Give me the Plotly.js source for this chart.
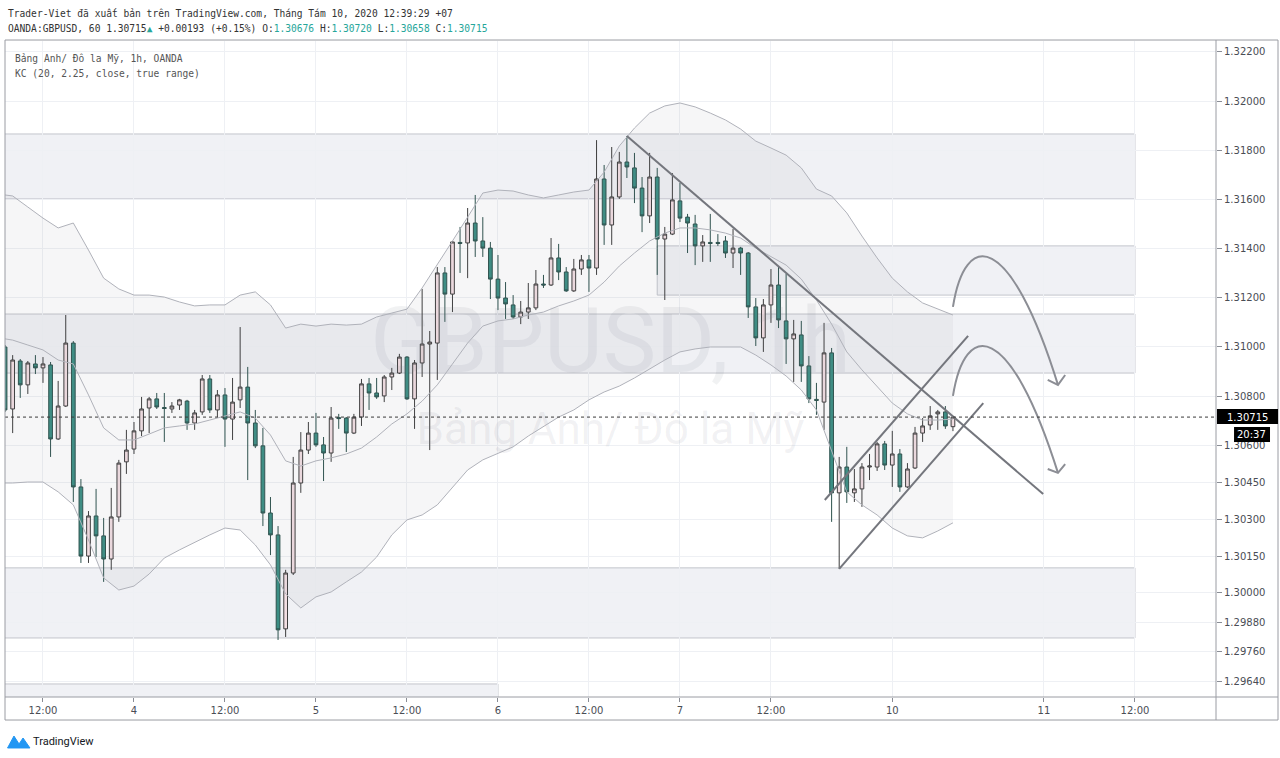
<!DOCTYPE html>
<html>
<head>
<meta charset="utf-8">
<script src="https://cdn.plot.ly/plotly-3.0.1.min.js"></script>
<style>html,body{margin:0;padding:0;background:#fff;}#chart{width:1280px;height:758px;}</style>
</head>
<body>
<div id="chart"></div>
<script>
// ---- bar numbering: 0 = 12:00 Aug 3 (hourly bars, weekend gap removed) ----
const firstBar = -5;
const barCount = 126;
const barNo = Array.from({length: barCount}, (_, i) => firstBar + i);

const open = [1.31000,1.30748,1.30943,1.30846,1.30931,1.30915,1.30927,1.30626,1.30760,1.31016,
1.30431,1.30150,1.30313,1.30232,1.30138,1.30309,1.30533,1.30585,1.30659,1.30752,
1.30789,1.30754,1.30748,1.30764,1.30780,1.30691,1.30736,1.30870,1.30744,1.30805,
1.30707,1.30785,1.30837,1.30691,1.30598,1.30325,1.30236,1.29854,1.30081,1.30447,
1.30581,1.30650,1.30602,1.30569,1.30713,1.30711,1.30650,1.30715,1.30850,1.30813,
1.30801,1.30878,1.30894,1.30959,1.30789,1.30935,1.31012,1.31016,1.31301,1.31215,
1.31425,1.31423,1.31504,1.31431,1.31402,1.31276,1.31199,1.31171,1.31122,1.31142,
1.31159,1.31256,1.31252,1.31362,1.31305,1.31228,1.31317,1.31354,1.31321,1.31683,
1.31496,1.31610,1.31752,1.31728,1.31646,1.31533,1.31691,1.31439,1.31459,1.31594,
1.31528,1.31500,1.31411,1.31425,1.31425,1.31431,1.31382,1.31402,1.31382,1.31163,
1.31037,1.31171,1.31252,1.31106,1.31033,1.31049,1.30923,1.30787,1.30776,1.30976,
1.30407,1.30512,1.30407,1.30423,1.30512,1.30512,1.30606,1.30520,1.30565,1.30431,
1.30508,1.30650,1.30683,1.30728,1.30736,1.30676];
const high = [1.31008,1.30967,1.30951,1.30943,1.30967,1.30959,1.30939,1.30862,1.31130,1.31024,
1.30463,1.30333,1.30423,1.30305,1.30427,1.30541,1.30663,1.30695,1.30797,1.30797,
1.30813,1.30813,1.30776,1.30789,1.30785,1.30744,1.30886,1.30886,1.30825,1.30833,
1.30874,1.31081,1.30919,1.30744,1.30671,1.30390,1.30272,1.30094,1.30553,1.30654,
1.30695,1.30732,1.30634,1.30756,1.30728,1.30715,1.30728,1.30870,1.30874,1.30874,
1.30886,1.30915,1.30972,1.30963,1.30947,1.31236,1.31065,1.31325,1.31325,1.31431,
1.31488,1.31565,1.31618,1.31528,1.31427,1.31374,1.31264,1.31211,1.31187,1.31260,
1.31313,1.31293,1.31443,1.31419,1.31325,1.31358,1.31374,1.31374,1.31841,1.31740,
1.31813,1.31793,1.31858,1.31789,1.31691,1.31789,1.31728,1.31488,1.31707,1.31667,
1.31541,1.31537,1.31455,1.31541,1.31459,1.31451,1.31480,1.31407,1.31386,1.31199,
1.31195,1.31317,1.31325,1.31297,1.31110,1.31106,1.30963,1.30854,1.31098,1.30996,
1.30553,1.30594,1.30504,1.30528,1.30565,1.30614,1.30618,1.30659,1.30585,1.30528,
1.30675,1.30711,1.30760,1.30744,1.30760,1.30720];
const low = [1.30736,1.30650,1.30793,1.30809,1.30890,1.30854,1.30553,1.30622,1.30756,1.30370,
1.30122,1.30122,1.30146,1.30045,1.30094,1.30289,1.30484,1.30565,1.30638,1.30650,
1.30748,1.30614,1.30732,1.30744,1.30663,1.30663,1.30724,1.30732,1.30715,1.30594,
1.30622,1.30752,1.30459,1.30589,1.30272,1.30154,1.29809,1.29821,1.30073,1.30407,
1.30565,1.30594,1.30455,1.30533,1.30667,1.30573,1.30646,1.30679,1.30744,1.30789,
1.30776,1.30825,1.30890,1.30785,1.30667,1.30878,1.30581,1.30866,1.31102,1.31142,
1.31301,1.31280,1.31366,1.31366,1.31195,1.31150,1.31114,1.31114,1.31093,1.31114,
1.31150,1.31240,1.31248,1.31272,1.31224,1.31224,1.31293,1.31224,1.31293,1.31415,
1.31415,1.31602,1.31687,1.31585,1.31467,1.31504,1.31293,1.31191,1.31455,1.31508,
1.31382,1.31333,1.31346,1.31346,1.31411,1.31362,1.31321,1.31293,1.31118,1.31004,
1.30980,1.31098,1.31077,1.30931,1.30858,1.30858,1.30772,1.30724,1.30663,1.30289,
1.30098,1.30366,1.30370,1.30350,1.30459,1.30496,1.30500,1.30431,1.30411,1.30427,
1.30504,1.30614,1.30663,1.30663,1.30667,1.30658];
const close = [1.30744,1.30947,1.30846,1.30935,1.30915,1.30931,1.30626,1.30760,1.31016,1.30431,
1.30150,1.30313,1.30232,1.30138,1.30309,1.30528,1.30581,1.30659,1.30748,1.30789,
1.30756,1.30750,1.30760,1.30785,1.30691,1.30732,1.30870,1.30744,1.30805,1.30707,
1.30776,1.30837,1.30691,1.30598,1.30325,1.30236,1.29850,1.30081,1.30447,1.30581,
1.30650,1.30602,1.30569,1.30711,1.30709,1.30650,1.30715,1.30850,1.30813,1.30797,
1.30878,1.30894,1.30959,1.30789,1.30935,1.31012,1.31020,1.31301,1.31215,1.31427,
1.31421,1.31504,1.31431,1.31402,1.31276,1.31199,1.31175,1.31122,1.31142,1.31159,
1.31256,1.31252,1.31362,1.31305,1.31228,1.31317,1.31354,1.31321,1.31683,1.31496,
1.31610,1.31752,1.31732,1.31646,1.31533,1.31691,1.31439,1.31459,1.31598,1.31524,
1.31504,1.31411,1.31427,1.31421,1.31421,1.31382,1.31402,1.31382,1.31163,1.31037,
1.31171,1.31252,1.31110,1.31033,1.31053,1.30923,1.30789,1.30783,1.30976,1.30407,
1.30512,1.30411,1.30423,1.30512,1.30516,1.30606,1.30520,1.30565,1.30431,1.30504,
1.30650,1.30679,1.30720,1.30736,1.30679,1.30715];

// ---- Keltner channel (read at sampled bars) ----
const kcBar = [-5,-4,-2,0,2,4,6,8,10,12,14,16,18,20,22,24,26,28,30,32,34,36,38,40,42,44,46,48,50,52,54,56,58,60,62,64,66,68,70,72,74,76,78,80,82,84,86,88,90,92,94,96,98,100,102,104,106,108,110,112,114,116,118,120];
const kcUpper = [1.31618,1.31614,1.31569,1.31524,1.31484,1.31504,1.31394,1.31280,1.31236,1.31211,1.31211,1.31203,1.31183,1.31167,1.31171,1.31171,1.31211,1.31224,1.31171,1.31077,1.31093,1.31085,1.31093,1.31089,1.31093,1.31122,1.31138,1.31154,1.31240,1.31333,1.31431,1.31528,1.31626,1.31638,1.31634,1.31618,1.31606,1.31618,1.31630,1.31638,1.31711,1.31817,1.31890,1.31951,1.31980,1.31992,1.31976,1.31951,1.31923,1.31886,1.31837,1.31809,1.31780,1.31728,1.31642,1.31614,1.31545,1.31451,1.31362,1.31280,1.31224,1.31179,1.31154,1.31130];
const kcLower = [1.30447,1.30447,1.30451,1.30451,1.30411,1.30358,1.30215,1.30061,1.30012,1.30028,1.30077,1.30142,1.30175,1.30207,1.30236,1.30264,1.30256,1.30195,1.30114,1.29996,1.29939,1.29984,1.30004,1.30045,1.30085,1.30146,1.30236,1.30297,1.30317,1.30358,1.30431,1.30500,1.30541,1.30569,1.30594,1.30638,1.30675,1.30715,1.30744,1.30785,1.30817,1.30841,1.30874,1.30911,1.30947,1.30980,1.30992,1.31000,1.31000,1.31000,1.30967,1.30927,1.30882,1.30825,1.30744,1.30573,1.30411,1.30358,1.30317,1.30264,1.30232,1.30224,1.30252,1.30285];
const kcBasis = [1.31033,1.31028,1.31008,1.30988,1.30947,1.30931,1.30805,1.30671,1.30622,1.30622,1.30646,1.30671,1.30679,1.30687,1.30703,1.30720,1.30736,1.30711,1.30642,1.30537,1.30516,1.30537,1.30549,1.30565,1.30589,1.30634,1.30687,1.30728,1.30780,1.30846,1.30931,1.31016,1.31085,1.31106,1.31114,1.31130,1.31142,1.31167,1.31187,1.31211,1.31264,1.31329,1.31382,1.31431,1.31463,1.31484,1.31484,1.31476,1.31463,1.31443,1.31402,1.31366,1.31333,1.31276,1.31191,1.31093,1.30980,1.30907,1.30841,1.30772,1.30728,1.30703,1.30703,1.30707];

// ---- axis ticks ----
const xTickBars = [0,12,24,36,48,60,72,84,96,112,132,144];
const xTickText = ['12:00','4','12:00','5','12:00','6','12:00','7','12:00','10','11','12:00'];
const yTickVals = [1.322,1.320,1.318,1.316,1.314,1.312,1.310,1.308,1.306,1.3045,1.303,1.3015,1.300,1.2988,1.2976,1.2964];
const yTickText = ['1.32200','1.32000','1.31800','1.31600','1.31400','1.31200','1.31000','1.30800','1.30600','1.30450','1.30300','1.30150','1.30000','1.29880','1.29760','1.29640'];
const lastPrice = 1.30715;

// ---- drawings ----
const zoneStart = [-20, 81, -20, -20, -20];
const zoneEnd   = [144, 144, 144, 144, 60];
const zoneLow   = [1.31602, 1.31211, 1.30894, 1.29817, 1.29400];
const zoneHigh  = [1.31866, 1.31411, 1.31134, 1.30102, 1.29630];

const trendBars   = [77, 131.9];
const trendPrices = [1.31858, 1.30402];
const chanUpBars   = [103.1, 122.0];
const chanUpPrices = [1.30378, 1.31045];
const chanLoBars   = [105, 124.0];
const chanLoPrices = [1.30098, 1.30772];
// curved arrows: start, ctrl1, ctrl2, end, wing1, wing2
const arrowBars = [120.0, 121.6, 127.5, 133.85, 132.5, 134.8];
const arrow1Prices = [1.31163, 1.31476, 1.31476, 1.30846, 1.30866, 1.30886];
const arrow2Prices = [1.30801, 1.31110, 1.31110, 1.30488, 1.30504, 1.30524];

const shapes = [];
for (let i = 0; i < zoneStart.length; i++) {
  shapes.push({type:'rect', xref:'x', yref:'y', x0:zoneStart[i], x1:zoneEnd[i], y0:zoneLow[i], y1:zoneHigh[i],
    fillcolor:'rgba(185,188,210,0.21)', line:{color:'#c3c5cc', width:1}, layer:'below'});
}
const dark = '#74767d';
shapes.push({type:'line', xref:'x', yref:'y', x0:trendBars[0], y0:trendPrices[0], x1:trendBars[1], y1:trendPrices[1], line:{color:dark, width:2}, layer:'above'});
shapes.push({type:'line', xref:'x', yref:'y', x0:chanUpBars[0], y0:chanUpPrices[0], x1:chanUpBars[1], y1:chanUpPrices[1], line:{color:dark, width:2}, layer:'above'});
shapes.push({type:'line', xref:'x', yref:'y', x0:chanLoBars[0], y0:chanLoPrices[0], x1:chanLoBars[1], y1:chanLoPrices[1], line:{color:dark, width:2}, layer:'above'});
function arrowPaths(p) {
  const b = arrowBars;
  return [
    `M ${b[0]},${p[0]} C ${b[1]},${p[1]} ${b[2]},${p[2]} ${b[3]},${p[3]}`,
    `M ${b[4]},${p[4]} L ${b[3]},${p[3]} L ${b[5]},${p[5]}`
  ];
}
[arrow1Prices, arrow2Prices].forEach(p => {
  arrowPaths(p).forEach(d => shapes.push({type:'path', xref:'x', yref:'y', path:d, line:{color:'#8c8e95', width:2}, layer:'above'}));
});
// current price dotted line
shapes.push({type:'line', xref:'paper', yref:'y', x0:0, x1:1, y0:lastPrice, y1:lastPrice, line:{color:'#3a3a3a', width:1, dash:'dot'}, layer:'above'});
// frames
const frameC = '#9a9ca3';
shapes.push({type:'rect', xref:'paper', yref:'paper', x0:0, x1:1.0512, y0:-0.0351, y1:1.0015, line:{color:frameC, width:1}, fillcolor:'rgba(0,0,0,0)'});
shapes.push({type:'line', xref:'paper', yref:'paper', x0:1, x1:1, y0:-0.0351, y1:1.0015, line:{color:frameC, width:1}});
shapes.push({type:'line', xref:'paper', yref:'paper', x0:0, x1:1.0512, y0:0, y1:0, line:{color:frameC, width:1}});
// price label boxes
shapes.push({type:'rect', xref:'paper', yref:'paper', x0:1.0008, x1:1.0512, y0:0.4162, y1:0.4390, fillcolor:'#000', line:{width:0}});
shapes.push({type:'rect', xref:'paper', yref:'paper', x0:1.0149, x1:1.0446, y0:0.3887, y1:0.4116, fillcolor:'#000', line:{width:0}});
// TradingView logo mark
shapes.push({type:'path', xref:'paper', yref:'paper',
  path:'M 0.0021,-0.0777 L 0.0074,-0.0595 L 0.0116,-0.0716 L 0.0149,-0.0625 L 0.0206,-0.0777 Z',
  fillcolor:'#2196f3', line:{color:'#2196f3', width:1}});

const mono = 'DejaVu Sans Mono, monospace';
const teal = '#26a69a';
const annotations = [
  {xref:'paper', yref:'paper', x:0.0012, y:1.0412, xanchor:'left', yanchor:'middle', showarrow:false,
   text:'Trader-Viet đã xuất bản trên TradingView.com, Tháng Tám 10, 2020 12:39:29 +07',
   font:{family:mono, size:9.6, color:'#333'}},
  {xref:'paper', yref:'paper', x:0.0012, y:1.0183, xanchor:'left', yanchor:'middle', showarrow:false,
   text:'OANDA:GBPUSD, 60 1.30715<span style="color:'+teal+'">▲</span> +0.00193 (+0.15%) O:<span style="color:'+teal+'">1.30676</span> H:<span style="color:'+teal+'">1.30720</span> L:<span style="color:'+teal+'">1.30658</span> C:<span style="color:'+teal+'">1.30715</span>',
   font:{family:mono, size:9.6, color:'#333'}},
  {xref:'paper', yref:'paper', x:0.0062, y:0.974, xanchor:'left', yanchor:'middle', showarrow:false,
   text:'Bảng Anh/ Đô la Mỹ, 1h, OANDA', font:{family:mono, size:9.6, color:'#555'}},
  {xref:'paper', yref:'paper', x:0.0062, y:0.9497, xanchor:'left', yanchor:'middle', showarrow:false,
   text:'KC (20, 2.25, close, true range)', font:{family:mono, size:9.6, color:'#555'}},
  {xref:'paper', yref:'paper', x:1.0256, y:0.4268, xanchor:'center', yanchor:'middle', showarrow:false,
   text:'1.30715', font:{family:'DejaVu Sans', size:10, color:'#fff'}},
  {xref:'paper', yref:'paper', x:1.0297, y:0.4002, xanchor:'center', yanchor:'middle', showarrow:false,
   text:'20:37', font:{family:'DejaVu Sans', size:10, color:'#fff'}},
  {xref:'paper', yref:'paper', x:0.0215, y:-0.0671, xanchor:'left', yanchor:'middle', showarrow:false,
   text:'TradingView', font:{family:'Roboto, DejaVu Sans', size:11, color:'#131722'}}
];

const wmColor = 'rgba(120,124,140,0.10)';
const traces = [
  {type:'scatter', mode:'text', x:[74.84], y:[1.30990], text:['GBPUSD, 1h'], textposition:'middle center',
   textfont:{family:'Roboto, Noto Sans, sans-serif', size:90, color:wmColor}, hoverinfo:'skip', showlegend:false},
  {type:'scatter', mode:'text', x:[74.84], y:[1.30650], text:['Bảng Anh/ Đô la Mỹ'], textposition:'middle center',
   textfont:{family:'Roboto, Noto Sans, sans-serif', size:44, color:wmColor}, hoverinfo:'skip', showlegend:false},
  {type:'scatter', mode:'lines', x:kcBar, y:kcUpper, line:{color:'#b0b2ba', width:1}, hoverinfo:'skip', showlegend:false},
  {type:'scatter', mode:'lines', x:kcBar, y:kcLower, fill:'tonexty', fillcolor:'rgba(125,128,145,0.07)',
   line:{color:'#b0b2ba', width:1}, hoverinfo:'skip', showlegend:false},
  {type:'scatter', mode:'lines', x:kcBar, y:kcBasis, line:{color:'#b0b2ba', width:1}, hoverinfo:'skip', showlegend:false},
  {type:'candlestick', x:barNo, open:open, high:high, low:low, close:close,
   increasing:{line:{color:'#3c3c3c', width:1}, fillcolor:'#f3dfe3'},
   decreasing:{line:{color:'#2c514c', width:1}, fillcolor:'#3b8e84'},
   whiskerwidth:0, hoverinfo:'skip', showlegend:false}
];

const layout = {
  width:1280, height:758,
  margin:{l:5, r:64, t:41, b:61, pad:0},
  paper_bgcolor:'#ffffff', plot_bgcolor:'#ffffff',
  showlegend:false,
  xaxis:{range:[-5.01, 154.69], tickmode:'array', tickvals:xTickBars, ticktext:xTickText,
    showgrid:true, gridcolor:'#eef0f4', gridwidth:1, zeroline:false, showline:false,
    ticks:'outside', ticklen:4, tickcolor:'#8a8d95',
    tickfont:{family:'DejaVu Sans', size:10, color:'#4a4d55'},
    rangeslider:{visible:false}, fixedrange:true},
  yaxis:{range:[1.29577, 1.32244], side:'right', tickmode:'array', tickvals:yTickVals, ticktext:yTickText,
    showgrid:true, gridcolor:'#eef0f4', gridwidth:1, zeroline:false, showline:false,
    ticks:'outside', ticklen:5, tickcolor:'#8a8d95',
    tickfont:{family:'DejaVu Sans', size:10, color:'#4a4d55'}, fixedrange:true},
  shapes:shapes,
  annotations:annotations
};

Plotly.newPlot('chart', traces, layout, {displayModeBar:false, staticPlot:true});
</script>
</body>
</html>
